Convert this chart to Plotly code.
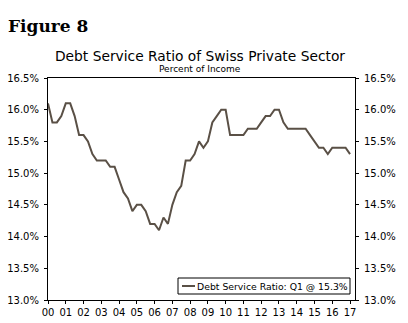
import plotly.graph_objects as go

# Quarterly debt service ratio, 2000Q1 .. 2017Q1 (percent of income)
values = [
    16.1, 15.8, 15.8, 15.9,   # 2000
    16.1, 16.1, 15.9, 15.6,   # 2001
    15.6, 15.5, 15.3, 15.2,   # 2002
    15.2, 15.2, 15.1, 15.1,   # 2003
    14.9, 14.7, 14.6, 14.4,   # 2004
    14.5, 14.5, 14.4, 14.2,   # 2005
    14.2, 14.1, 14.3, 14.2,   # 2006
    14.5, 14.7, 14.8, 15.2,   # 2007
    15.2, 15.3, 15.5, 15.4,   # 2008
    15.5, 15.8, 15.9, 16.0,   # 2009
    16.0, 15.6, 15.6, 15.6,   # 2010
    15.6, 15.7, 15.7, 15.7,   # 2011
    15.8, 15.9, 15.9, 16.0,   # 2012
    16.0, 15.8, 15.7, 15.7,   # 2013
    15.7, 15.7, 15.7, 15.6,   # 2014
    15.5, 15.4, 15.4, 15.3,   # 2015
    15.4, 15.4, 15.4, 15.4,   # 2016
    15.3,                     # 2017
]
start_year = 2000
quarters = [start_year + i / 4 for i in range(len(values))]
year_ticks = list(range(2000, 2018))
year_labels = [f"{y % 100:02d}" for y in year_ticks]
y_ticks = [13.0, 13.5, 14.0, 14.5, 15.0, 15.5, 16.0, 16.5]
y_labels = [f"{v:.1f}%" for v in y_ticks]
series_name = "Debt Service Ratio: Q1 @ 15.3%"

line_color = "#5a5046"
font = "DejaVu Sans, Verdana, sans-serif"

fig = go.Figure()
fig.add_trace(go.Scatter(x=quarters, y=values, mode="lines",
                         line=dict(color=line_color, width=2),
                         name=series_name, showlegend=False, hoverinfo="skip"))
fig.add_trace(go.Scatter(x=quarters, y=values, mode="lines", yaxis="y2",
                         line=dict(color=line_color, width=2), opacity=0,
                         showlegend=False, hoverinfo="skip"))

L, R, T, B = 48, 53, 78, 23
W, H = 408, 323
pw, ph = W - L - R, H - T - B

def px(xp):
    return (xp - L) / pw

def py(yp):
    return (H - B - yp) / ph

axis_common = dict(showgrid=False, zeroline=False, showline=True, linecolor="black",
                   linewidth=1, ticks="outside", ticklen=3, tickcolor="black",
                   automargin=False,
                   tickfont=dict(family=font, size=10, color="black"))

fig.update_layout(
    width=W, height=H,
    margin=dict(l=L, r=R, t=T, b=B),
    paper_bgcolor="white", plot_bgcolor="white",
    xaxis=dict(range=[2000, 2017.28], tickvals=year_ticks, ticktext=year_labels,
               mirror=True, **axis_common),
    yaxis=dict(range=[13.0, 16.5], tickvals=y_ticks, ticktext=y_labels,
               ticklabelstandoff=3, **axis_common),
    yaxis2=dict(range=[13.0, 16.5], tickvals=y_ticks, ticktext=y_labels,
                overlaying="y", side="right", ticklabelstandoff=3, **axis_common),
)

annotations = [
    dict(text="<b>Figure 8</b>", x=px(6), y=py(25.5), xanchor="left", yanchor="middle",
         font=dict(family="DejaVu Serif, Georgia, serif", size=17, color="black")),
    dict(text="Debt Service Ratio of Swiss Private Sector", x=px(200), y=py(56),
         xanchor="center", yanchor="middle",
         font=dict(family=font, size=13.8, color="black")),
    dict(text="Percent of Income", x=px(200), y=py(69), xanchor="center", yanchor="middle",
         font=dict(family=font, size=9, color="black")),
    dict(text=series_name, x=px(195), y=py(286), xanchor="left", yanchor="middle",
         font=dict(family=font, size=9.3, color="black")),
]
for a in annotations:
    a.update(xref="paper", yref="paper", showarrow=False)
fig.update_layout(annotations=annotations)

fig.update_layout(shapes=[
    dict(type="rect", xref="paper", yref="paper", x0=px(178), x1=px(350), y0=py(294), y1=py(278),
         line=dict(color="black", width=1), fillcolor="white", layer="above"),
    dict(type="line", xref="paper", yref="paper", x0=px(182), x1=px(195), y0=py(286), y1=py(286),
         line=dict(color=line_color, width=2), layer="above"),
])

fig.write_html("out.html")
